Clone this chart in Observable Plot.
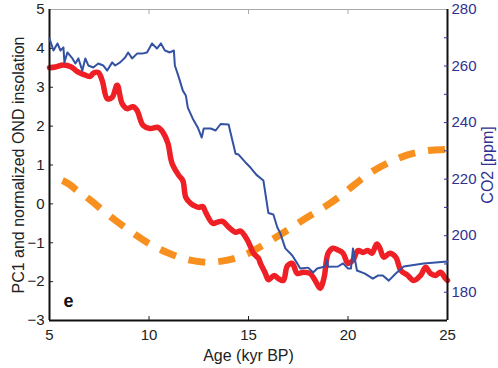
<!DOCTYPE html>
<html>
<head>
<meta charset="utf-8">
<script src="https://cdn.jsdelivr.net/npm/d3@7"></script>
<script src="https://cdn.jsdelivr.net/npm/@observablehq/plot@0.6"></script>
<style>
  html, body { margin: 0; padding: 0; background: #fff; }
  #chart { position: relative; width: 498px; height: 368px; }
  #chart svg { position: absolute; left: 0; top: 0; }
</style>
</head>
<body>
<div id="chart"></div>
<script>
// ---- data ----
const xTicks = [5, 10, 15, 20, 25];
const yTicks = [-3, -2, -1, 0, 1, 2, 3, 4, 5];
const co2Ticks = [180, 200, 220, 240, 260, 280];
const co2MinorTicks = [180, 190, 200, 210, 220, 230, 240, 250, 260, 270];

const pc1Age = [5.0, 5.3, 5.7, 6.1, 6.4, 6.7, 7.05, 7.2, 7.45, 7.65, 7.9, 8.15, 8.4, 8.65, 8.9, 9.2, 9.4, 9.7, 10.05, 10.45, 10.7, 10.95, 11.1, 11.2, 11.5, 11.7, 11.85, 12.1, 12.25, 12.5, 12.7, 12.85, 13.2, 13.45, 13.7, 14.0, 14.35, 14.6, 14.95, 15.1, 15.25, 15.5, 15.6, 15.85, 16.0, 16.3, 16.5, 16.75, 16.95, 17.2, 17.45, 17.75, 18.1, 18.35, 18.6, 18.8, 19.0, 19.25, 19.5, 19.75, 20.0, 20.25, 20.5, 20.75, 21.0, 21.2, 21.45, 21.6, 21.8, 22.1, 22.4, 22.65, 23.0, 23.3, 23.65, 23.9, 24.15, 24.4, 24.65, 24.9, 25.0];
const pc1Val = [3.5, 3.52, 3.57, 3.52, 3.4, 3.33, 3.28, 3.36, 3.38, 3.17, 2.71, 2.74, 3.05, 2.58, 2.45, 2.5, 2.4, 2.02, 1.94, 1.97, 1.84, 1.56, 1.15, 0.99, 0.73, 0.6, 0.17, 0.01, -0.04, -0.09, -0.07, -0.22, -0.5, -0.47, -0.45, -0.6, -0.73, -0.7, -0.94, -1.1, -1.27, -1.4, -1.53, -1.79, -1.95, -1.84, -1.92, -1.97, -1.6, -1.53, -1.79, -1.76, -1.79, -1.97, -2.17, -1.89, -1.27, -1.14, -1.19, -1.27, -1.53, -1.45, -1.2, -1.25, -1.2, -1.27, -1.03, -1.14, -1.37, -1.27, -1.37, -1.71, -1.84, -1.97, -1.84, -1.63, -1.79, -1.84, -1.76, -1.92, -1.97];

const insAge = [5.65, 6, 6.5, 7, 8, 9, 10, 11, 12, 13, 14, 15, 16, 17, 18, 19, 20, 21, 22, 23, 24, 25];
const insVal = [0.6, 0.5, 0.3, 0.12, -0.3, -0.68, -1.02, -1.27, -1.44, -1.5, -1.44, -1.27, -0.98, -0.66, -0.33, -0.02, 0.36, 0.76, 1.05, 1.26, 1.37, 1.4];

const co2Age = [5.0, 5.2, 5.4, 5.55, 5.7, 5.75, 5.9, 6.15, 6.3, 6.45, 6.65, 6.8, 6.95, 7.2, 7.45, 7.7, 7.9, 8.15, 8.3, 8.55, 8.8, 8.95, 9.15, 9.4, 9.65, 9.9, 10.15, 10.4, 10.6, 10.8, 11.05, 11.25, 11.3, 11.5, 11.7, 11.85, 11.95, 12.2, 12.45, 12.65, 12.75, 13.1, 13.35, 13.6, 14.0, 14.35, 14.5, 14.85, 15.1, 15.4, 15.75, 16.0, 16.25, 16.45, 16.6, 16.85, 17.2, 17.45, 17.6, 18.0, 18.25, 18.45, 18.85, 18.95, 19.0, 19.5, 19.75, 20.0, 20.15, 20.25, 20.45, 20.85, 21.25, 21.5, 21.75, 22.05, 22.4, 22.8, 23.8, 25.0];
const co2Val = [269.7, 265.5, 268, 265.5, 266.6, 261.3, 264.8, 262.7, 260.9, 262.7, 258.4, 262.7, 260.2, 259.5, 260.9, 260.2, 258.4, 261.3, 260.2, 261.3, 263, 264.8, 262.7, 264.4, 264.4, 264.8, 268, 266.2, 268, 265.5, 264.8, 265.5, 260.2, 256, 251.3, 249.6, 245.3, 241.4, 238.3, 234.7, 237.9, 237.9, 237.2, 239.5, 239.3, 229, 228.7, 225.9, 224.1, 221.5, 219.5, 208, 207.5, 202.9, 200.8, 195.5, 193, 190.2, 188.4, 188.7, 187, 188.4, 189.1, 191.5, 189, 189.1, 190.2, 188.4, 188.4, 195.5, 187.7, 186.6, 184.8, 185.9, 185.9, 184.1, 186.6, 189.1, 190.2, 190.9];

const pc1 = pc1Age.map((a, i) => ({age: a, v: pc1Val[i]}));
const ins = insAge.map((a, i) => ({age: a, v: insVal[i]}));
const co2 = co2Age.map((a, i) => ({age: a, v: co2Val[i]}));

// ---- layout ----
const W = 498, H = 368;
const margins = {marginTop: 9, marginRight: 51, marginBottom: 48, marginLeft: 49};
const font = "'Liberation Sans', Arial, Helvetica, sans-serif";
const blueText = "#2e3192";

const p1 = Plot.plot({
  width: W, height: H, ...margins,
  style: {fontFamily: font, fontSize: "15px", background: "transparent", color: "#222"},
  x: {domain: [5, 25]},
  y: {domain: [-3, 5]},
  marks: [
    Plot.line(ins, {x: "age", y: "v", curve: "natural", stroke: "#f7901e", strokeWidth: 7, strokeDasharray: "17,13", strokeLinecap: "butt"}),
    Plot.line(pc1, {x: "age", y: "v", curve: "catmull-rom", stroke: "#ee1f25", strokeWidth: 5.5, strokeLinejoin: "round"}),
    Plot.axisX({ticks: xTicks, tickSize: 0, tickPadding: 9, label: null, fontSize: 15}),
    Plot.axisX({ticks: [10, 15, 20], tickSize: 4, dy: -4, tickFormat: () => "", label: null, stroke: "#222"}),
    Plot.axisX({anchor: "top", ticks: [10, 15, 20], tickSize: 4, dy: 4, tickFormat: () => "", label: null, stroke: "#aaa"}),
    Plot.axisY({ticks: yTicks, tickSize: 0, tickPadding: 5, label: null, fontSize: 15}),
    Plot.axisY({ticks: [-2, -1, 0, 1, 2, 3, 4], tickSize: 4, dx: 4, tickFormat: () => "", label: null, stroke: "#222"}),
    Plot.ruleY([5], {stroke: "#aaa", strokeWidth: 1}),
    Plot.ruleY([-3], {stroke: "#111", strokeWidth: 2}),
    Plot.ruleX([5], {stroke: "#111", strokeWidth: 2}),
    Plot.ruleX([25], {stroke: "#111", strokeWidth: 2}),
    Plot.text(["e"], {frameAnchor: "bottom-left", dx: 14, dy: -14, fontWeight: "bold", fontSize: 18, fill: "#111", textAnchor: "start"}),
    Plot.text(["Age (kyr BP)"], {frameAnchor: "bottom", dy: 29, lineAnchor: "top", textAnchor: "middle", fontSize: 16, fill: "#222"}),
    Plot.text(["PC1 and normalized OND insolation"], {frameAnchor: "left", dx: -31, rotate: -90, textAnchor: "middle", lineAnchor: "middle", fontSize: 16, fill: "#222"})
  ]
});

const p2 = Plot.plot({
  width: W, height: H, ...margins,
  style: {fontFamily: font, fontSize: "15px", background: "transparent", color: blueText},
  x: {domain: [5, 25], axis: null},
  y: {domain: [170, 280]},
  marks: [
    Plot.line(co2, {x: "age", y: "v", stroke: "#3452a4", strokeWidth: 2}),
    Plot.axisY({anchor: "right", ticks: co2Ticks, tickSize: 0, tickPadding: 4, label: null, fontSize: 15, fill: blueText}),
    Plot.axisY({anchor: "right", ticks: co2MinorTicks, tickSize: 4, dx: -4, tickFormat: () => "", label: null, stroke: blueText}),
    Plot.text(["CO2 [ppm]"], {frameAnchor: "right", dx: 40, y: null, rotate: -90, textAnchor: "middle", lineAnchor: "middle", fontSize: 16, fill: blueText})
  ]
});

const el = document.getElementById("chart");
el.appendChild(p1);
el.appendChild(p2);
</script>
</body>
</html>
